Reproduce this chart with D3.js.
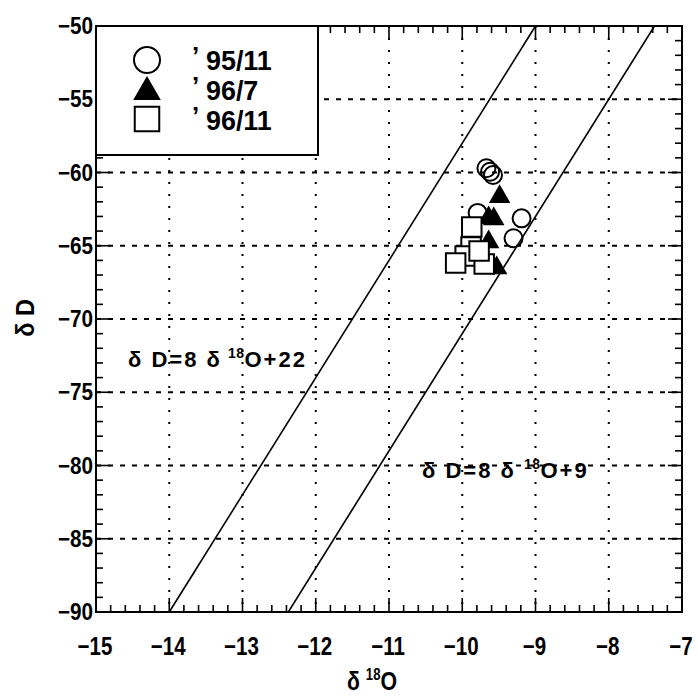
<!DOCTYPE html>
<html>
<head>
<meta charset="utf-8">
<script src="https://cdn.jsdelivr.net/npm/d3@7"></script>
<style>
  body { margin: 0; background: #fff; }
  text { font-family: "Liberation Sans", Arial, sans-serif; font-weight: bold; fill: #000; }
</style>
</head>
<body>
<div id="chart"></div>
<script>
// data
const seriesNames = ["95/11", "96/7", "96/11"];
const nov95 = [[-9.67, -59.71], [-9.62, -59.95], [-9.58, -60.17], [-9.79, -62.76], [-9.19, -63.13], [-9.30, -64.49]];
const jul96 = [[-9.49, -61.65], [-9.57, -63.17], [-9.64, -63.1], [-9.64, -64.74], [-9.53, -66.52]];
const nov96 = [[-9.87, -63.72], [-9.88, -65.09], [-9.96, -65.7], [-10.09, -66.18], [-9.70, -66.25], [-9.77, -65.36]];
const xTicks = [-15, -14, -13, -12, -11, -10, -9, -8, -7];
const yTicks = [-50, -55, -60, -65, -70, -75, -80, -85, -90];
const slope = 8;
const intercepts = [22, 9];

const w = 698, h = 700;
const margin = { top: 26, right: 16, bottom: 88, left: 96 };
const narrow = 0.82; // the original lettering is a condensed bold face

const svg = d3.select("#chart").append("svg").attr("width", w).attr("height", h);

const x = d3.scaleLinear().domain([-15, -7]).range([margin.left, w - margin.right]);
const y = d3.scaleLinear().domain([-90, -50]).range([h - margin.bottom, margin.top]);

// grid lines
svg.append("g").selectAll("line").data(xTicks.slice(1, -1)).enter().append("line")
  .attr("x1", d => x(d)).attr("x2", d => x(d))
  .attr("y1", y(-50)).attr("y2", y(-90))
  .attr("stroke", "#000").attr("stroke-width", 2).attr("stroke-dasharray", "2,10");
svg.append("g").selectAll("line").data(yTicks.slice(1, -1)).enter().append("line")
  .attr("y1", d => y(d)).attr("y2", d => y(d))
  .attr("x1", x(-15)).attr("x2", x(-7))
  .attr("stroke", "#000").attr("stroke-width", 2).attr("stroke-dasharray", "5,7");

// reference lines dD = 8 d18O + b
intercepts.forEach(b => {
  const x0 = (-90 - b) / slope, x1 = (-50 - b) / slope;
  svg.append("line")
    .attr("x1", x(x0)).attr("y1", y(-90))
    .attr("x2", x(x1)).attr("y2", y(-50))
    .attr("stroke", "#000").attr("stroke-width", 1.6);
});

// ticks on all four sides, pointing inward
const xMinor = d3.range(-15, -6.99, 0.2);
const yMinor = d3.range(-90, -49.99, 1);
const tick = svg.append("g").attr("stroke", "#000").attr("stroke-width", 1.6);
xMinor.forEach(v => {
  const len = Math.abs(v - Math.round(v)) < 1e-6 ? 14 : 7;
  tick.append("line").attr("x1", x(v)).attr("x2", x(v)).attr("y1", y(-90)).attr("y2", y(-90) - len);
  tick.append("line").attr("x1", x(v)).attr("x2", x(v)).attr("y1", y(-50)).attr("y2", y(-50) + len);
});
yMinor.forEach(v => {
  const len = Math.abs(v % 5) < 1e-6 ? 14 : 7;
  tick.append("line").attr("y1", y(v)).attr("y2", y(v)).attr("x1", x(-15)).attr("x2", x(-15) + len);
  tick.append("line").attr("y1", y(v)).attr("y2", y(v)).attr("x1", x(-7)).attr("x2", x(-7) - len);
});

// frame
svg.append("rect")
  .attr("x", x(-15)).attr("y", y(-50))
  .attr("width", x(-7) - x(-15)).attr("height", y(-90) - y(-50))
  .attr("fill", "none").attr("stroke", "#000").attr("stroke-width", 2);

// tick labels
svg.append("g").selectAll("text").data(xTicks).enter().append("text")
  .attr("transform", d => `translate(${x(d) - 1},655) scale(${narrow},1)`)
  .attr("text-anchor", "middle").attr("font-size", 25)
  .text(d => "\u2212" + Math.abs(d));
svg.append("g").selectAll("text").data(yTicks).enter().append("text")
  .attr("transform", d => `translate(93,${y(d) + 8}) scale(0.9,1)`)
  .attr("text-anchor", "end").attr("font-size", 23)
  .text(d => "\u2212" + Math.abs(d));

// axis titles
const xt = svg.append("text").attr("transform", `translate(372,690) scale(${narrow},1)`)
  .attr("text-anchor", "middle").attr("font-size", 26);
xt.append("tspan").text("\u03b4 ");
xt.append("tspan").attr("font-size", 16).attr("dy", -10).text("18");
xt.append("tspan").attr("dy", 10).text("O");

svg.append("text").attr("transform", "translate(34,318) rotate(-90) scale(0.9,1)")
  .attr("text-anchor", "middle").attr("font-size", 26).text("\u03b4 D");

// equation labels
function equation(px, py, b, gap) {
  const t = svg.append("text").attr("x", px).attr("y", py)
    .attr("font-size", 22).attr("letter-spacing", 2);
  t.append("tspan").text("\u03b4 D=8 \u03b4");
  t.append("tspan").attr("font-size", 14).attr("letter-spacing", 0.5).attr("dx", gap).attr("dy", -9).text("18");
  t.append("tspan").attr("dy", 9).text("O+" + b);
}
equation(128, 367, intercepts[0], 6);
equation(422, 478, intercepts[1], 8);

// data points
svg.append("g").selectAll("circle").data(nov95).enter().append("circle")
  .attr("cx", d => x(d[0])).attr("cy", d => y(d[1])).attr("r", 9)
  .attr("fill", "none").attr("stroke", "#000").attr("stroke-width", 2);
svg.append("g").selectAll("path").data(jul96).enter().append("path")
  .attr("d", d3.symbol(d3.symbolTriangle, 200))
  .attr("transform", d => `translate(${x(d[0])},${y(d[1])})`)
  .attr("fill", "#000");
svg.append("g").selectAll("path").data(nov96).enter().append("path")
  .attr("d", d3.symbol(d3.symbolSquare, 380))
  .attr("transform", d => `translate(${x(d[0])},${y(d[1])})`)
  .attr("fill", "#fff").attr("stroke", "#000").attr("stroke-width", 2);

// legend
const lg = svg.append("g");
lg.append("rect").attr("x", x(-15)).attr("y", y(-50)).attr("width", 222).attr("height", 129)
  .attr("fill", "#fff").attr("stroke", "#000").attr("stroke-width", 2);
lg.append("circle").attr("cx", 147).attr("cy", 60).attr("r", 13)
  .attr("fill", "none").attr("stroke", "#000").attr("stroke-width", 2);
lg.append("path").attr("d", d3.symbol(d3.symbolTriangle, 330)).attr("transform", "translate(147,92)").attr("fill", "#000");
lg.append("path").attr("d", d3.symbol(d3.symbolSquare, 600)).attr("transform", "translate(147,119)")
  .attr("fill", "#fff").attr("stroke", "#000").attr("stroke-width", 2);
seriesNames.forEach((name, i) => {
  const base = 70 + i * 30;
  lg.append("text").attr("x", 192).attr("y", base - 5).attr("font-size", 26).text("\u2019");
  lg.append("text").attr("transform", `translate(206,${base}) scale(0.96,1)`)
    .attr("font-size", 28).text(name);
});
</script>
</body>
</html>
